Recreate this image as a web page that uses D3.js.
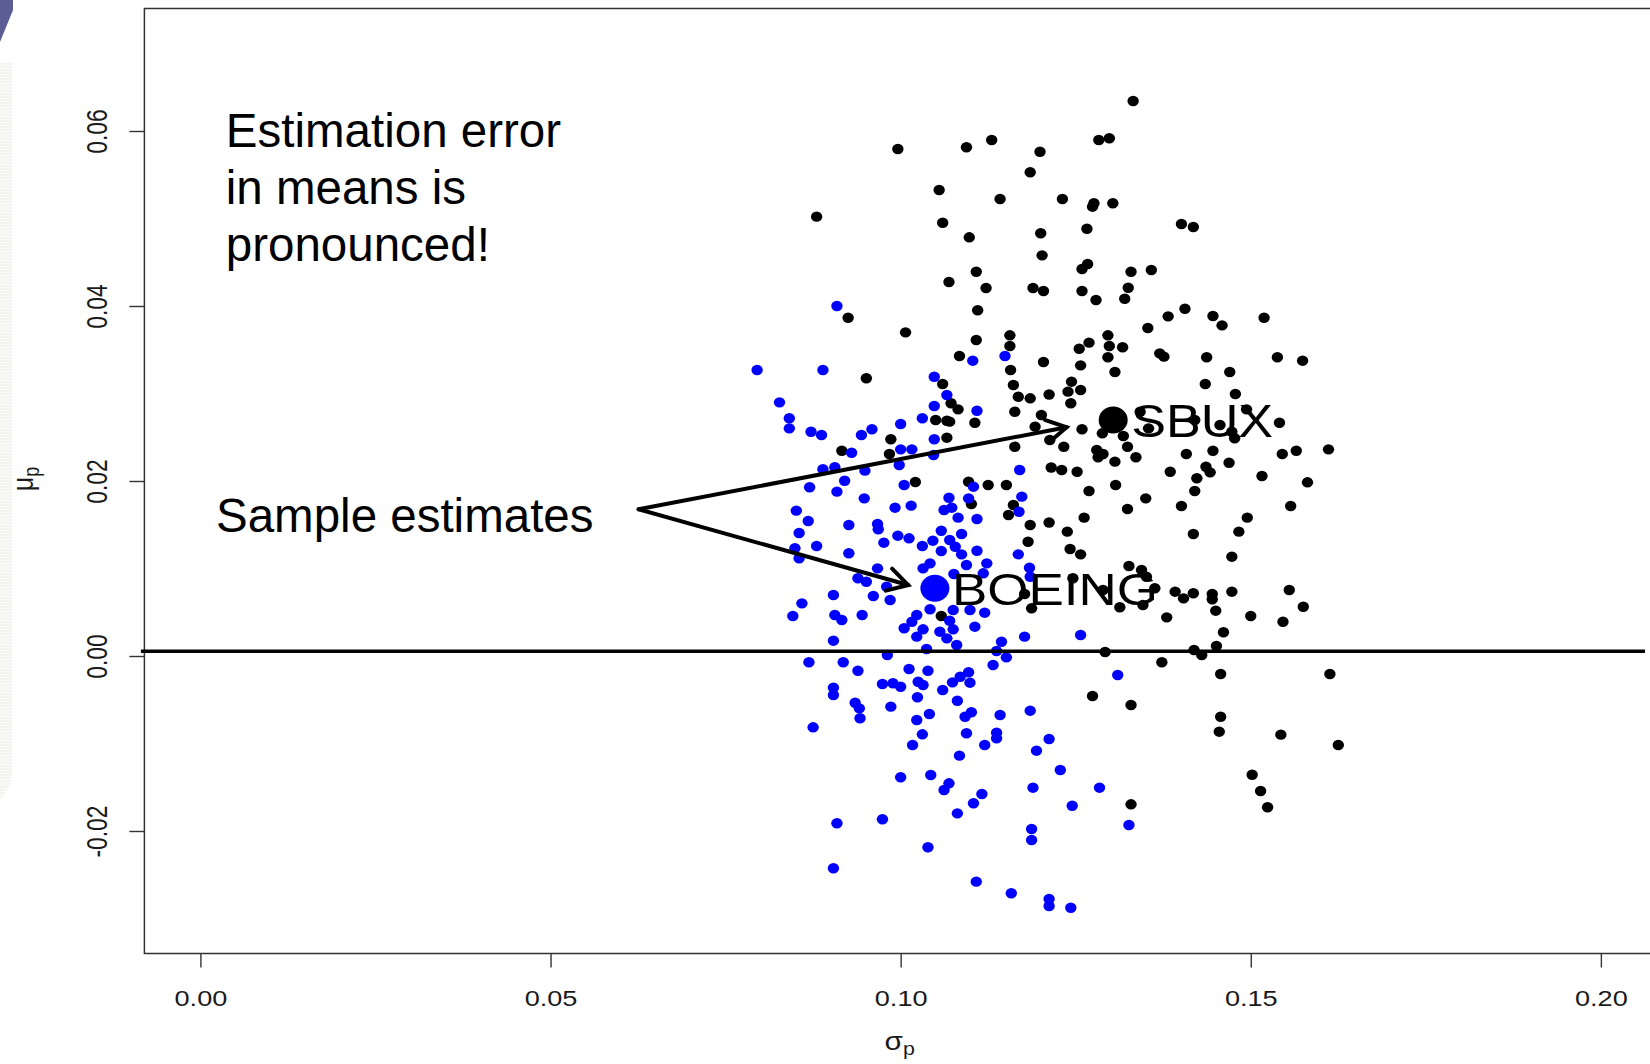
<!DOCTYPE html>
<html>
<head>
<meta charset="utf-8">
<script src="https://cdn.jsdelivr.net/npm/d3@7"></script>
<style>
  html, body { margin: 0; padding: 0; background: #ffffff; }
  svg { display: block; }
  text { font-family: "Liberation Sans", Arial, Helvetica, sans-serif; }
</style>
</head>
<body>
<svg id="chart" width="1650" height="1064"></svg>
<script>
// ---------------- data ----------------
const sbuxSigma = [
0.0996,0.1094,0.1130,0.1199,0.1185,0.1055,0.1142,0.0880,0.1060,0.1098,
0.1200,0.1202,0.1108,0.1069,0.1122,0.1189,0.1204,0.1110,0.0925,0.1007,
0.1108,0.1156,0.1156,0.1084,0.1204,0.1157,0.1332,0.1283,0.1298,0.1231,
0.1276,0.1274,0.1303,0.1401,0.1418,0.1266,0.1267,0.1259,0.1329,0.1358,
0.1259,0.1279,0.1325,0.1320,0.1406,0.1382,0.1446,0.1459,0.1519,0.1353,
0.1296,0.1269,0.1255,0.1298,0.1317,0.1296,0.1370,0.1376,0.1437,0.1538,
0.1574,0.1257,0.1470,0.1306,0.0951,0.1060,0.1072,0.1082,0.1161,0.1168,
0.1185,0.1212,0.1163,0.1201,0.1192,0.1106,0.1050,0.1066,0.1070,0.1066,
0.0986,0.0916,0.0984,0.1163,0.1213,0.1215,0.1021,0.1097,0.1125,0.1151,
0.1101,0.1161,0.1154,0.1185,0.1212,0.1182,0.1177,0.1187,0.1058,0.1244,
0.1239,0.1257,0.1243,0.1435,0.1478,0.1494,0.1541,0.1259,0.1288,0.1318,
0.1324,0.1233,0.1280,0.1282,0.1289,0.1306,0.1336,0.1342,0.1354,0.1420,
0.1456,0.1473,0.1477,0.1408,0.1446,0.1469,0.1545,0.1565,0.1611,0.1230,
0.1252,0.1385,0.1436,0.1442,0.1423,0.1516,0.1581,0.1269,0.1307,0.1420,
0.1350,0.1324,0.1401,0.1557,0.1262,0.1495,0.1238,0.1418,0.1483,0.1242,
0.1257,0.1473,0.1326,0.1344,0.1246,0.1351,0.1363,0.1289,0.1392,0.1404,
0.1418,0.1445,0.1445,0.1473,0.1555,0.1575,0.1313,0.1346,0.1450,0.1380,
0.1500,0.1546,0.1461,0.1419,0.1451,0.1292,0.1430,0.1373,0.1457,0.1613,
0.1274,0.1329,0.1457,0.1455,0.1543,0.1625,0.1329,0.1502,0.1514,0.1524];
const sbuxMu = [
0.05794,0.05814,0.05897,0.05763,0.05528,0.05326,0.05223,0.05021,0.04952,0.04785,
0.04831,0.04579,0.04392,0.04274,0.04206,0.04206,0.04171,0.03951,0.03866,0.03699,
0.03611,0.03665,0.03543,0.03429,0.03360,0.03269,0.06343,0.05897,0.05917,0.05223,
0.05174,0.05135,0.05174,0.04937,0.04903,0.04883,0.04480,0.04423,0.04392,0.04411,
0.04171,0.04069,0.04209,0.04083,0.03969,0.03882,0.03886,0.03779,0.03866,0.03749,
0.03665,0.03581,0.03512,0.03543,0.03528,0.03414,0.03459,0.03421,0.03414,0.03414,
0.03375,0.03322,0.03246,0.03246,0.03174,0.03109,0.02888,0.02819,0.03097,0.02963,
0.02945,0.02989,0.02792,0.02754,0.02621,0.02666,0.02697,0.02689,0.02678,0.02495,
0.02477,0.02346,0.02309,0.02392,0.02469,0.02154,0.01989,0.01992,0.01954,0.01954,
0.01737,0.01726,0.01611,0.01497,0.01526,0.01306,0.00709,0.00545,0.00457,0.03135,
0.03021,0.03040,0.02888,0.03109,0.02994,0.02819,0.02666,0.02591,0.02545,0.02514,
0.02392,0.02392,0.02354,0.02271,0.02309,0.02221,0.02271,0.02792,0.02602,0.02697,
0.02640,0.02563,0.02488,0.02309,0.02346,0.02209,0.02309,0.02346,0.02362,0.02126,
0.02106,0.02106,0.02163,0.02099,0.02031,0.02057,0.01985,0.01886,0.01954,0.01886,
0.01802,0.01680,0.01714,0.01714,0.01581,0.01581,0.01421,0.01394,0.01421,0.01223,
0.01162,0.01135,0.01029,0.00983,0.00888,0.00906,0.00774,0.00754,0.00735,0.00659,
0.00717,0.00709,0.00648,0.00735,0.00754,0.00563,0.00557,0.00583,0.00518,0.00442,
0.00457,0.00392,0.00271,0.00069,0.00114,0.00046,0.00011,-0.00072,-0.00206,-0.00206,
-0.00457,-0.00560,-0.00694,-0.00865,-0.00899,-0.01017,-0.01695,-0.01357,-0.01543,-0.01729];

const boeingSigma = [
0.0909,0.1103,0.1149,0.0795,0.0889,0.1048,0.1066,0.1109,0.0827,0.0841,
0.0841,0.0872,0.0887,0.0944,0.0959,0.1000,0.1031,0.1048,0.1048,0.0930,
0.1000,0.1016,0.1047,0.0998,0.0889,0.0906,0.0949,0.1170,0.0920,0.0870,
0.0909,0.1005,0.1104,0.0948,0.1069,0.1097,0.1173,0.0851,0.0992,0.1015,
0.1062,0.1073,0.1082,0.1109,0.1169,0.0868,0.0926,0.0967,0.0968,0.0855,
0.0996,0.1012,0.1058,0.1087,0.0880,0.0976,0.1031,0.1046,0.1070,0.1058,
0.1078,0.1087,0.1109,0.0849,0.0855,0.0926,0.1168,0.1042,0.1032,0.0967,
0.1094,0.1123,0.1184,0.0939,0.0951,0.1076,0.1118,0.1185,0.0980,0.0904,
0.0961,0.0985,0.0859,0.0846,0.0906,0.0916,0.0945,0.1042,0.1075,0.1099,
0.1120,0.1023,0.1016,0.1070,0.1005,0.1032,0.1056,0.1075,0.1106,0.1023,
0.0904,0.1066,0.1080,0.1144,0.1177,0.1037,0.1137,0.1257,0.0981,0.1151,
0.0869,0.0918,0.0939,0.1012,0.1039,0.1132,0.0904,0.0904,0.0974,0.0989,
0.1000,0.1025,0.1032,0.1060,0.1074,0.1085,0.1097,0.1099,0.1024,0.1081,
0.0935,0.0941,0.0986,0.0942,0.1041,0.1023,0.1092,0.1101,0.1142,0.1185,
0.0875,0.1031,0.1094,0.1137,0.1137,0.1212,0.1017,0.1120,0.1194,0.1084,
0.1000,0.1043,0.1069,0.1062,0.1189,0.1116,0.1104,0.1081,0.0909,0.0974,
0.1187,0.1187,0.1039,0.0904,0.1108,0.1158,0.1212,0.1212,0.1310,0.1228,
0.1284,0.1245,0.1326,0.1243];
const boeingMu = [
0.04000,0.03375,0.03429,0.03269,0.03269,0.03192,0.02983,0.02803,0.02899,0.02717,
0.02602,0.02563,0.02526,0.02526,0.02591,0.02651,0.02717,0.02857,0.02477,0.02323,
0.02362,0.02362,0.02297,0.02183,0.02134,0.02157,0.02118,0.02126,0.02003,0.01928,
0.01878,0.01954,0.01935,0.01802,0.01809,0.01802,0.01821,0.01661,0.01695,0.01718,
0.01669,0.01695,0.01581,0.01566,0.01649,0.01543,0.01497,0.01509,0.01448,0.01406,
0.01375,0.01345,0.01432,0.01394,0.01257,0.01295,0.01257,0.01318,0.01326,0.01200,
0.01249,0.01162,0.01203,0.01231,0.01117,0.01174,0.01162,0.01059,0.01002,0.01002,
0.01040,0.01059,0.01009,0.00888,0.00849,0.00937,0.00945,0.00906,0.00792,0.00697,
0.00686,0.00640,0.00602,0.00457,0.00469,0.00411,0.00469,0.00534,0.00526,0.00526,
0.00495,0.00469,0.00392,0.00403,0.00317,0.00305,0.00278,0.00305,0.00335,0.00221,
0.00175,0.00202,0.00126,0.00163,0.00221,0.00080,0.00057,0.00240,0.00011,-0.00015,
-0.00072,-0.00072,-0.00168,-0.00149,-0.00168,-0.00103,-0.00362,-0.00446,-0.00320,-0.00312,
-0.00351,-0.00294,-0.00331,-0.00389,-0.00301,-0.00237,-0.00186,-0.00305,-0.00472,-0.00511,
-0.00534,-0.00598,-0.00579,-0.00712,-0.00663,-0.00731,-0.00694,-0.00643,-0.00674,-0.00625,
-0.00815,-0.00895,-0.00883,-0.00877,-0.00941,-0.00949,-0.01017,-0.01017,-0.01082,-0.01139,
-0.01386,-0.01360,-0.01455,-0.01531,-0.01505,-0.01577,-0.01683,-0.01798,-0.01912,-0.01866,
-0.01977,-0.02103,-0.02186,-0.02426,-0.02579,-0.02712,-0.02777,-0.02857,-0.00217,-0.01303,
-0.01505,-0.01711,-0.01931,-0.02877];

// sample estimates (big points)
const assetNames = ["SBUX", "BOEING"];
const assetSigma = [0.13035, 0.10489];
const assetMu    = [0.02697, 0.00774];
const assetColors = ["#000000", "#0000ff"];

// axis ticks
const xTickValues = [0.00, 0.05, 0.10, 0.15, 0.20];
const xTickLabels = ["0.00", "0.05", "0.10", "0.15", "0.20"];
const yTickValues = [-0.02, 0.00, 0.02, 0.04, 0.06];
const yTickLabels = ["-0.02", "0.00", "0.02", "0.04", "0.06"];

// reference line and annotation
const refLineMu = 0.00054;
const refLineSigma = [-0.0085, 0.2063];
const arrowFrom = [0.06258, 0.01677];
const arrowTips = [[0.12370, 0.02614], [0.10108, 0.00811]];
const noteLines = ["Estimation error", "in means is", "pronounced!"];
const arrowLabel = "Sample estimates";

// ---------------- drawing ----------------
const svg = d3.select("#chart");
const W = 1650, H = 1064;
svg.append("rect").attr("width", W).attr("height", H).attr("fill", "#ffffff");

// faint slide decoration at left edge
const defs = svg.append("defs");
const pat = defs.append("pattern").attr("id", "stripes")
  .attr("patternUnits", "userSpaceOnUse").attr("width", 12).attr("height", 3);
pat.append("rect").attr("width", 12).attr("height", 2).attr("fill", "#f3f3ef");
pat.append("rect").attr("y", 2).attr("width", 12).attr("height", 1).attr("fill", "#fbfbf9");
svg.append("path")
  .attr("d", "M0,63 L12,63 L12,780 Q8,790 0,800 Z")
  .attr("fill", "url(#stripes)");
svg.append("path").attr("d", "M0,0 L13,0 L13,10 L0,42 Z").attr("fill", "#5d5d96");

const x = d3.scaleLinear().domain([-0.008, 0.208]).range([144.4, 1656.9]);
const y = d3.scaleLinear().domain([-0.034, 0.074]).range([953.5, 8.5]);

const sx = 1.19; // horizontal stretch of the R image

// axes
const xAxis = d3.axisBottom(x).tickValues(xTickValues).tickSize(14).tickPadding(0)
  .tickFormat((d, i) => xTickLabels[i]);
const gx = svg.append("g").attr("transform", `translate(0,${y(-0.034)})`).call(xAxis);
gx.select(".domain").remove();
gx.selectAll(".tick line").attr("stroke", "#333").attr("stroke-width", 1.4);
gx.selectAll(".tick text")
  .attr("y", 0).attr("dy", 0)
  .attr("transform", `translate(0,52) scale(${sx},1)`)
  .attr("fill", "#1a1a1a")
  .style("font-size", "22.8px")
  .style("font-family", "'Liberation Sans', Arial, sans-serif");

const yAxis = d3.axisLeft(y).tickValues(yTickValues).tickSize(15).tickPadding(0)
  .tickFormat((d, i) => yTickLabels[i]);
const gy = svg.append("g").attr("transform", `translate(${x(-0.008)},0)`).call(yAxis);
gy.select(".domain").remove();
gy.selectAll(".tick line").attr("stroke", "#333").attr("stroke-width", 1.4);
gy.selectAll(".tick text")
  .attr("x", 0).attr("dy", 0).attr("y", 0)
  .attr("text-anchor", "middle")
  .attr("transform", `translate(-37,0) rotate(-90) scale(1,${sx * 1.06})`)
  .attr("fill", "#1a1a1a")
  .style("font-size", "22.8px")
  .style("font-family", "'Liberation Sans', Arial, sans-serif");

// points
const sbux = sbuxSigma.map((s, i) => ({ s, m: sbuxMu[i] }));
const boeing = boeingSigma.map((s, i) => ({ s, m: boeingMu[i] }));

svg.append("g").selectAll("ellipse").data(sbux).join("ellipse")
  .attr("cx", d => x(d.s)).attr("cy", d => y(d.m))
  .attr("rx", 5.7).attr("ry", 5.2).attr("fill", "#000000");
svg.append("g").selectAll("ellipse").data(boeing).join("ellipse")
  .attr("cx", d => x(d.s)).attr("cy", d => y(d.m))
  .attr("rx", 5.7).attr("ry", 5.2).attr("fill", "#0000ff");

// big sample-estimate points
svg.append("g").selectAll("ellipse").data(assetNames).join("ellipse")
  .attr("cx", (d, i) => x(assetSigma[i])).attr("cy", (d, i) => y(assetMu[i]))
  .attr("rx", 14.5).attr("ry", 13.5).attr("fill", (d, i) => assetColors[i]);

// labels next to big points
const labelFont = [47, 45];
const labelLen = [142, 206];
const labelOffset = [18, 17];
svg.append("g").selectAll("text").data(assetNames).join("text")
  .attr("x", (d, i) => x(assetSigma[i]) + labelOffset[i])
  .attr("y", (d, i) => y(assetMu[i]) + 17)
  .attr("font-size", (d, i) => labelFont[i] + "px")
  .attr("textLength", (d, i) => labelLen[i])
  .attr("lengthAdjust", "spacingAndGlyphs")
  .attr("fill", "#000")
  .text(d => d);

// plot frame
svg.append("rect")
  .attr("x", x(-0.008)).attr("y", y(0.074))
  .attr("width", x(0.208) - x(-0.008)).attr("height", y(-0.034) - y(0.074))
  .attr("fill", "none").attr("stroke", "#333").attr("stroke-width", 1.5);

// horizontal reference line
svg.append("line")
  .attr("x1", x(refLineSigma[0])).attr("x2", x(refLineSigma[1]))
  .attr("y1", y(refLineMu)).attr("y2", y(refLineMu))
  .attr("stroke", "#000").attr("stroke-width", 3.4);

// arrows
const ag = svg.append("g").attr("stroke", "#000").attr("stroke-width", 4)
  .attr("fill", "none").attr("stroke-linecap", "round");
arrowTips.forEach(t => {
  const x0 = x(arrowFrom[0]), y0 = y(arrowFrom[1]);
  const x1 = x(t[0]), y1 = y(t[1]);
  ag.append("line").attr("x1", x0).attr("y1", y0).attr("x2", x1).attr("y2", y1);
  const ang = Math.atan2(y1 - y0, x1 - x0);
  const L = 23, a = 0.52;
  const p1 = [x1 - L * Math.cos(ang - a), y1 - L * Math.sin(ang - a)];
  const p2 = [x1 - L * Math.cos(ang + a), y1 - L * Math.sin(ang + a)];
  ag.append("path").attr("d", `M${p1[0]},${p1[1]} L${x1},${y1} L${p2[0]},${p2[1]}`);
});

// annotation texts
svg.append("g").selectAll("text").data(noteLines).join("text")
  .attr("x", 225.8).attr("y", (d, i) => 147.1 + i * 56.8)
  .attr("font-size", "47.5px").attr("fill", "#000").text(d => d);
svg.append("text").attr("x", 216).attr("y", 532)
  .attr("font-size", "47.5px").attr("fill", "#000").text(arrowLabel);

// axis titles
const xt = svg.append("text")
  .attr("transform", `translate(${x(0.10) - 1},1050) scale(${sx},1)`)
  .attr("text-anchor", "middle").attr("font-size", "25px").attr("fill", "#1a1a1a");
xt.append("tspan").text("σ");
xt.append("tspan").attr("font-size", "18px").attr("dy", 5).text("p");

const yt = svg.append("text")
  .attr("transform", `translate(33,${y(0.02) - 2}) rotate(-90) scale(1,${sx})`)
  .attr("text-anchor", "middle").attr("font-size", "25px").attr("fill", "#1a1a1a");
yt.append("tspan").text("μ");
yt.append("tspan").attr("font-size", "18px").attr("dy", 5).text("p");
</script>
</body>
</html>
